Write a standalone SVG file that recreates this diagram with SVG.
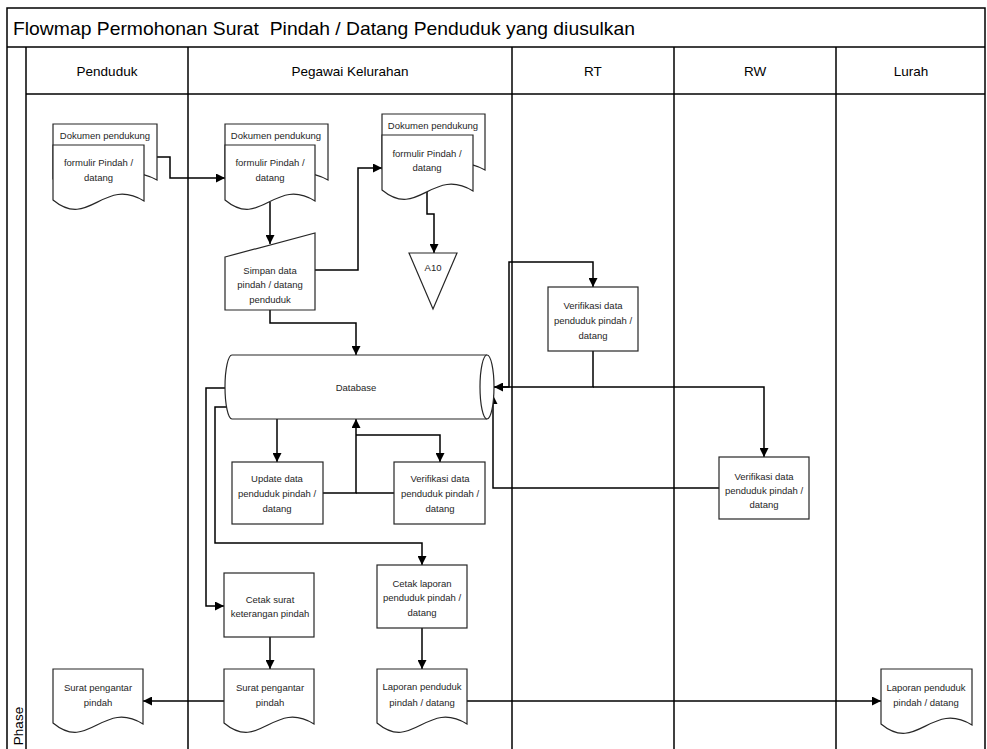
<svg xmlns="http://www.w3.org/2000/svg" width="987" height="749" viewBox="0 0 987 749">
<style>
.frame{fill:none;stroke:#000;stroke-width:1.5}
.shape{fill:#fff;stroke:#262626;stroke-width:1.2}
.conn{fill:none;stroke:#000;stroke-width:1.5}
.t{font-family:"Liberation Sans",Arial,sans-serif;font-size:9.5px;fill:#262626;text-anchor:middle}
.h{font-family:"Liberation Sans",Arial,sans-serif;font-size:13.5px;fill:#000;text-anchor:middle}
.title{font-family:"Liberation Sans",Arial,sans-serif;font-size:19px;fill:#000}
</style>
<defs>
<marker id="ah" viewBox="0 0 10 10" refX="10" refY="5" markerWidth="10" markerHeight="9" markerUnits="userSpaceOnUse" orient="auto">
<path d="M0,0 L10,5 L0,10 z" fill="#000"/>
</marker>
</defs>
<rect width="987" height="749" fill="#fff"/>
<g id="swimlanes">
<path class="frame" d="M7,760 V8 H985 V760"/>
<line class="frame" x1="7" y1="47" x2="985" y2="47"/>
<line class="frame" x1="26" y1="47" x2="26" y2="760"/>
<line class="frame" x1="26" y1="94" x2="985" y2="94"/>
<line class="frame" x1="188" y1="47" x2="188" y2="760"/>
<line class="frame" x1="512" y1="47" x2="512" y2="760"/>
<line class="frame" x1="674" y1="47" x2="674" y2="760"/>
<line class="frame" x1="836" y1="47" x2="836" y2="760"/>
<text class="title" x="13" y="35" xml:space="preserve" textLength="622" lengthAdjust="spacingAndGlyphs">Flowmap Permohonan Surat  Pindah / Datang Penduduk yang diusulkan</text>
<text class="h" x="107" y="76">Penduduk</text>
<text class="h" x="350" y="76">Pegawai Kelurahan</text>
<text class="h" x="593" y="76">RT</text>
<text class="h" x="755" y="76">RW</text>
<text class="h" x="911" y="76">Lurah</text>
<text class="h" x="0" y="0" transform="translate(23,726) rotate(-90)">Phase</text>
</g>
<g id="connectors">
<path class="conn" d="M157,157 H170 V178 H225" marker-end="url(#ah)"/>
<path class="conn" d="M270,202 V244" marker-end="url(#ah)"/>
<path class="conn" d="M315,270 H358 V168 H382" marker-end="url(#ah)"/>
<path class="conn" d="M427,192 V214 H434 V253" marker-end="url(#ah)"/>
<path class="conn" d="M270,310 V323 H356 V355" marker-end="url(#ah)"/>
<path class="conn" d="M277,419 V462" marker-end="url(#ah)"/>
<path class="conn" d="M323,493 H356 V419" marker-end="url(#ah)"/>
<path class="conn" d="M394,493 H356"/>
<path class="conn" d="M356,435 H440 V462" marker-end="url(#ah)"/>
<path class="conn" d="M225,388 H206 V606 H224" marker-end="url(#ah)"/>
<path class="conn" d="M227,407 H215 V543 H422 V565" marker-end="url(#ah)"/>
<path class="conn" d="M270,637 V669" marker-end="url(#ah)"/>
<path class="conn" d="M224,701 H143" marker-end="url(#ah)"/>
<path class="conn" d="M422,628 V669" marker-end="url(#ah)"/>
<path class="conn" d="M467,701 H881" marker-end="url(#ah)"/>
<path class="conn" d="M494,387 H509 V262 H593 V287" marker-end="url(#ah)"/>
<path class="conn" d="M593,351 V387 H494" marker-end="url(#ah)"/>
<path class="conn" d="M593,387 H764 V457" marker-end="url(#ah)"/>
<path class="conn" d="M719,488 H493 V395" marker-end="url(#ah)"/>
</g>
<g id="doc-penduduk">
<path class="shape" d="M53,124 H157 V180 C110,155 94.6,209 53,179 Z"/>
<path class="shape" d="M53,145 H144 V201 C103,176 89.4,230 53,200 Z"/>
<text class="t" x="105" y="138.5">Dokumen pendukung</text>
<text class="t" x="98.5" y="165.5">formulir Pindah /</text>
<text class="t" x="98.5" y="180.5">datang</text>
</g>
<g id="doc-pegawai">
<path class="shape" d="M225,124 H328 V180 C281.6,155 266.2,209 225,179 Z"/>
<path class="shape" d="M225,145 H315 V201 C274.5,176 261,230 225,200 Z"/>
<text class="t" x="276" y="138.5">Dokumen pendukung</text>
<text class="t" x="270" y="165.5">formulir Pindah /</text>
<text class="t" x="270" y="180.5">datang</text>
</g>
<g id="simpan-data">
<path class="shape" d="M225,257 L315,233 V310 H225 Z"/>
<text class="t" x="270" y="273.5">Simpan data</text>
<text class="t" x="270" y="287.5">pindah / datang</text>
<text class="t" x="270" y="302.5">penduduk</text>
</g>
<g id="doc-arsip">
<path class="shape" d="M382,114 H485 V170 C438.6,145 423.2,199 382,169 Z"/>
<path class="shape" d="M382,135 H473 V191 C432,166 418.4,220 382,190 Z"/>
<text class="t" x="433" y="128.5">Dokumen pendukung</text>
<text class="t" x="427" y="156.5">formulir Pindah /</text>
<text class="t" x="427" y="170.5">datang</text>
</g>
<g id="a10">
<path class="shape" d="M409,253 H457 L433,309 Z"/>
<text class="t" x="433" y="270.5">A10</text>
</g>
<g id="database">
<path class="shape" d="M232,355 H487 A7,32 0 0 1 487,419 H232 A7,32 0 0 1 232,355 Z"/>
<path class="shape" fill="none" d="M487,355 A7,32 0 0 0 487,419"/>
<text class="t" x="356" y="390.5">Database</text>
</g>
<g id="update-data">
<rect class="shape" x="232" y="462" width="91" height="62"/>
<text class="t" x="277" y="481.5">Update data</text>
<text class="t" x="277" y="496.5">penduduk pindah /</text>
<text class="t" x="277" y="511.5">datang</text>
</g>
<g id="verifikasi-pegawai">
<rect class="shape" x="394" y="462" width="91" height="62"/>
<text class="t" x="440" y="481.5">Verifikasi data</text>
<text class="t" x="440" y="496.5">penduduk pindah /</text>
<text class="t" x="440" y="511.5">datang</text>
</g>
<g id="verifikasi-rt">
<rect class="shape" x="548" y="287" width="90" height="64"/>
<text class="t" x="593" y="308.5">Verifikasi data</text>
<text class="t" x="593" y="323.5">penduduk pindah /</text>
<text class="t" x="593" y="338.5">datang</text>
</g>
<g id="verifikasi-rw">
<rect class="shape" x="719" y="457" width="90" height="62"/>
<text class="t" x="764" y="479.5">Verifikasi data</text>
<text class="t" x="764" y="493.5">penduduk pindah /</text>
<text class="t" x="764" y="507.5">datang</text>
</g>
<g id="cetak-surat">
<rect class="shape" x="224" y="573" width="90" height="64"/>
<text class="t" x="270" y="602.5">Cetak surat</text>
<text class="t" x="270" y="616.5">keterangan pindah</text>
</g>
<g id="cetak-laporan">
<rect class="shape" x="377" y="565" width="90" height="63"/>
<text class="t" x="422" y="586.5">Cetak laporan</text>
<text class="t" x="422" y="600.5">penduduk pindah /</text>
<text class="t" x="422" y="615.5">datang</text>
</g>
<g id="surat-penduduk">
<path class="shape" d="M53,669 H143 V724 C102.5,699 89,753 53,723 Z"/>
<text class="t" x="98" y="690.5">Surat pengantar</text>
<text class="t" x="98" y="705.5">pindah</text>
</g>
<g id="surat-pegawai">
<path class="shape" d="M224,669 H314 V724 C273.5,699 260,753 224,723 Z"/>
<text class="t" x="270" y="690.5">Surat pengantar</text>
<text class="t" x="270" y="705.5">pindah</text>
</g>
<g id="laporan-pegawai">
<path class="shape" d="M377,669 H467 V724 C426.5,699 413,753 377,723 Z"/>
<text class="t" x="422" y="689.5">Laporan penduduk</text>
<text class="t" x="422" y="705.5">pindah / datang</text>
</g>
<g id="laporan-lurah">
<path class="shape" d="M881,669 H972 V725 C931,700 917.4,754 881,724 Z"/>
<text class="t" x="926" y="690.5">Laporan penduduk</text>
<text class="t" x="926" y="705.5">pindah / datang</text>
</g>
</svg>
